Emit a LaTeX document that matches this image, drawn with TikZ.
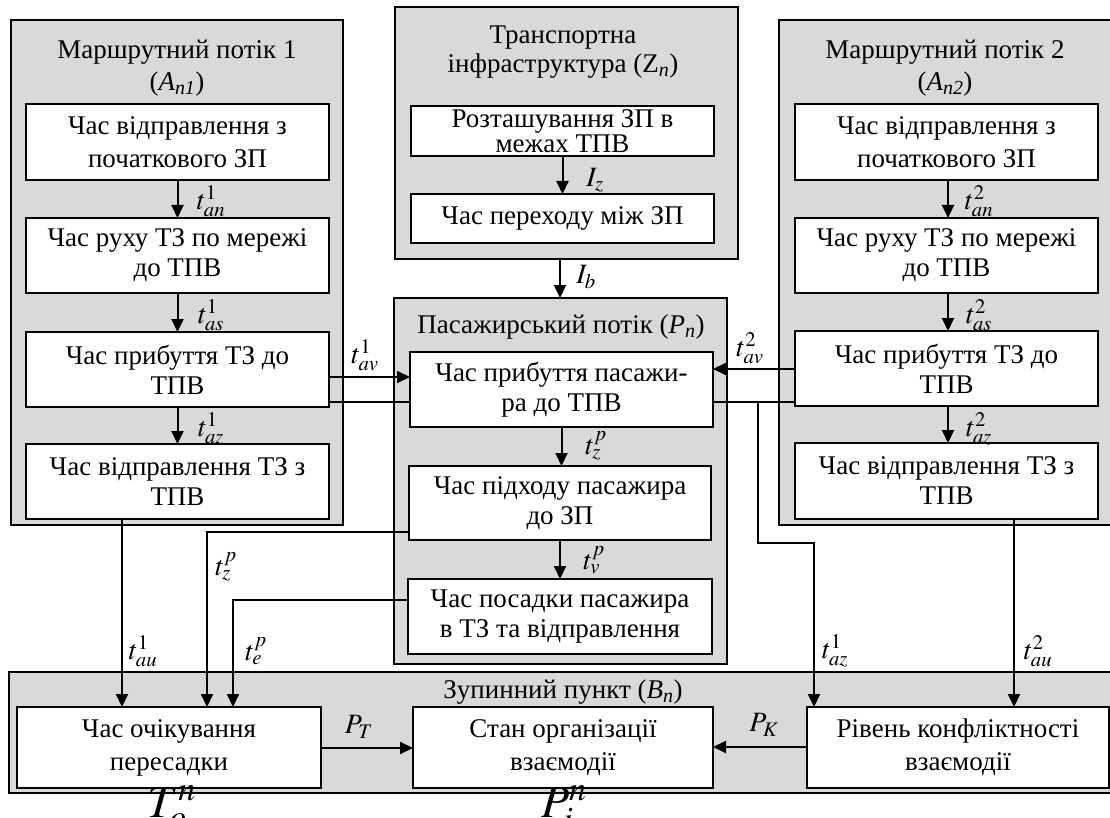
\documentclass[tikz,border=0pt]{standalone}
\usepackage{mathptmx}
\usepackage{fontspec}
\setmainfont{Liberation Serif}
\usetikzlibrary{arrows.meta}
\definecolor{boxgray}{RGB}{217,217,217}
\begin{document}
\begin{tikzpicture}[x=1pt,y=-1pt,
  every node/.style={outer sep=0pt},
  grp/.style={draw=black, line width=1.8pt, fill=boxgray, anchor=north west, inner sep=0pt},
  wbox/.style={draw=black, line width=1.8pt, fill=white, align=center, inner sep=1pt, anchor=north west, font=\fontsize{27}{30}\selectfont},
  wide/.style={font=\fontsize{27}{33}\selectfont},
  tight/.style={font={\fontsize{27}{25}\selectfont\lineskiplimit=-20pt}},
  ttl/.style={align=center, font=\fontsize{27}{32}\selectfont, inner sep=0pt},
  lbl/.style={font=\fontsize{28}{32}\selectfont, inner sep=0pt},
  big/.style={font=\fontsize{46}{50}\selectfont, inner sep=0pt, anchor=north west},
  conn/.style={line width=2pt},
  arr/.style={conn, -{Triangle[length=13pt,width=12pt]}},
]
\useasboundingbox (0,0) rectangle (1110,818);
\clip (0,0) rectangle (1110,818);
\fill[white] (0,0) rectangle (1110,818);

% containers
\node[grp, minimum width=332pt, minimum height=505pt] (gL) at (11,20) {};
\node[grp, minimum width=343pt, minimum height=252pt] (gZ) at (395,7) {};
\node[grp, minimum width=350pt, minimum height=505pt] (gR) at (779,20) {};
\node[grp, minimum width=333pt, minimum height=366pt] (gP) at (394,298) {};
\node[grp, minimum width=1120pt, minimum height=121pt] (gB) at (9,672) {};

% titles
\node[ttl] (tL) at (177,68) {Маршрутний потік 1\\(\textit{A\textsubscript{n1}})};
\node[ttl] (tR) at (945,68) {Маршрутний потік 2\\(\textit{A\textsubscript{n2}})};
\node[ttl, font=\fontsize{27}{29}\selectfont] (tZ) at (563,52) {Транспортна\\інфраструктура (Z\textsubscript{\textit{n}})};
\node[ttl] (tP) at (561,327) {Пасажирський потік (\textit{P\textsubscript{n}})};
\node[ttl] (tB) at (563,692) {Зупинний пункт (\textit{B\textsubscript{n}})};

% left column
\node[wbox, wide, minimum width=303pt, minimum height=76pt] (L1) at (26,104) {Час відправлення з\\початкового ЗП};
\node[wbox, minimum width=303pt, minimum height=75pt] (L2) at (26,218) {Час руху ТЗ по мережі\\до ТПВ};
\node[wbox, minimum width=303pt, minimum height=75pt] (L3) at (26,332) {Час прибуття ТЗ до\\ТПВ};
\node[wbox, minimum width=303pt, minimum height=75pt] (L4) at (26,444) {Час відправлення ТЗ з\\ТПВ};

% right column
\node[wbox, wide, minimum width=303pt, minimum height=76pt] (R1) at (795,104) {Час відправлення з\\початкового ЗП};
\node[wbox, minimum width=303pt, minimum height=75pt] (R2) at (795,218) {Час руху ТЗ по мережі\\до ТПВ};
\node[wbox, minimum width=303pt, minimum height=75pt] (R3) at (795,331) {Час прибуття ТЗ до\\ТПВ};
\node[wbox, minimum width=303pt, minimum height=76pt] (R4) at (795,443) {Час відправлення ТЗ з\\ТПВ};

% infrastructure
\node[wbox, tight, minimum width=303pt, minimum height=50pt] (Z1) at (411,106) {Розташування ЗП в\\межах ТПВ};
\node[wbox, minimum width=303pt, minimum height=49pt] (Z2) at (411,194) {Час переходу між ЗП};

% passenger flow
\node[wbox, minimum width=303pt, minimum height=75pt] (P1) at (410,352) {Час прибуття пасажи-\\ра до ТПВ};
\node[wbox, minimum width=302pt, minimum height=74pt] (P2) at (409,466) {Час підходу пасажира\\до ЗП};
\node[wbox, minimum width=304pt, minimum height=75pt] (P3) at (408,579) {Час посадки пасажира\\в ТЗ та відправлення};

% stop
\node[wbox, wide, minimum width=304pt, minimum height=81pt] (B1) at (17,707) {Час очікування\\пересадки};
\node[wbox, wide, minimum width=300pt, minimum height=81pt] (B2) at (413,707) {Стан організації\\взаємодії};
\node[wbox, wide, minimum width=302pt, minimum height=81pt] (B3) at (807,707) {Рівень конфліктності\\взаємодії};

% helper coordinates
\coordinate (yav1) at (0,377);
\coordinate (yav2) at (0,369);
\coordinate (ypl) at (0,402);
\coordinate (yzp) at (0,532);
\coordinate (yep) at (0,600);
\coordinate (ybr) at (0,543);
\coordinate (yPT) at (0,748);
\coordinate (yPK) at (0,747);
\coordinate (xau1) at (122,0);
\coordinate (xzp) at (207,0);
\coordinate (xep) at (233,0);
\coordinate (xIb) at (560,0);
\coordinate (xbr) at (758,0);
\coordinate (xaz) at (814,0);
\coordinate (xau2) at (1014,0);
\coordinate (xRa) at (948,0);

% vertical arrows inside columns
\draw[arr] (L1.south) -- (L1.south |- L2.north);
\draw[arr] (L2.south) -- (L2.south |- L3.north);
\draw[arr] (L3.south) -- (L3.south |- L4.north);
\draw[arr] (R1.south -| xRa) -- (R2.north -| xRa);
\draw[arr] (R2.south -| xRa) -- (R3.north -| xRa);
\draw[arr] (R3.south -| xRa) -- (R4.north -| xRa);
\draw[arr] (Z1.south) -- (Z1.south |- Z2.north);
\draw[arr] (gZ.south -| xIb) -- (gP.north -| xIb);
\draw[arr] (P1.south) -- (P1.south |- P2.north);
\draw[arr] (P2.south) -- (P2.south |- P3.north);

% horizontal links
\draw[arr] (L3.east |- yav1) -- (P1.west |- yav1);
\draw[conn] (L3.east |- ypl) -- (P1.west |- ypl);
\draw[arr] (R3.west |- yav2) -- (P1.east |- yav2);
\draw[conn] (P1.east |- ypl) -- (R3.west |- ypl);
\draw[arr] (xbr |- ypl) -- (xbr |- ybr) -- (xaz |- ybr) -- (B3.north -| xaz);
\draw[arr] (L4.south -| xau1) -- (B1.north -| xau1);
\draw[arr] (P2.west |- yzp) -- (xzp |- yzp) -- (B1.north -| xzp);
\draw[arr] (P3.west |- yep) -- (xep |- yep) -- (B1.north -| xep);
\draw[arr] (R4.south -| xau2) -- (B3.north -| xau2);
\draw[arr] (B1.east |- yPT) -- (B2.west |- yPT);
\draw[arr] (B3.west |- yPK) -- (B2.east |- yPK);

% labels
\node[lbl] (la1) at (211,201) {$t^{1}_{an}$};
\node[lbl] (la2) at (211,315) {$t^{1}_{as}$};
\node[lbl] (la3) at (211,429) {$t^{1}_{az}$};
\node[lbl] (ra1) at (979,201) {$t^{2}_{an}$};
\node[lbl] (ra2) at (979,315) {$t^{2}_{as}$};
\node[lbl] (ra3) at (979,429) {$t^{2}_{az}$};
\node[lbl] (lz) at (595,180) {$I_{z}$};
\node[lbl] (lb) at (586,277) {$I_{b}$};
\node[lbl] (lpz) at (596,446) {$t^{p}_{z}$};
\node[lbl] (lpv) at (594,560) {$t^{p}_{v}$};
\node[lbl] (lav1) at (365,355) {$t^{1}_{av}$};
\node[lbl] (lav2) at (750,348) {$t^{2}_{av}$};
\node[lbl] (lau1) at (143,651) {$t^{1}_{au}$};
\node[lbl] (lpz2) at (226,567) {$t^{p}_{z}$};
\node[lbl] (lpe) at (256,651) {$t^{p}_{e}$};
\node[lbl] (laz) at (835,651) {$t^{1}_{az}$};
\node[lbl] (lau2) at (1038,651) {$t^{2}_{au}$};
\node[lbl] (lPT) at (359,727) {$P_{T}$};
\node[lbl] (lPK) at (764,725) {$P_{K}$};
\node[big] (To) at (147,786) {$T^{n}_{o}$};
\node[big] (Pi) at (541,786) {$P^{n}_{i}$};
\end{tikzpicture}
\end{document}
